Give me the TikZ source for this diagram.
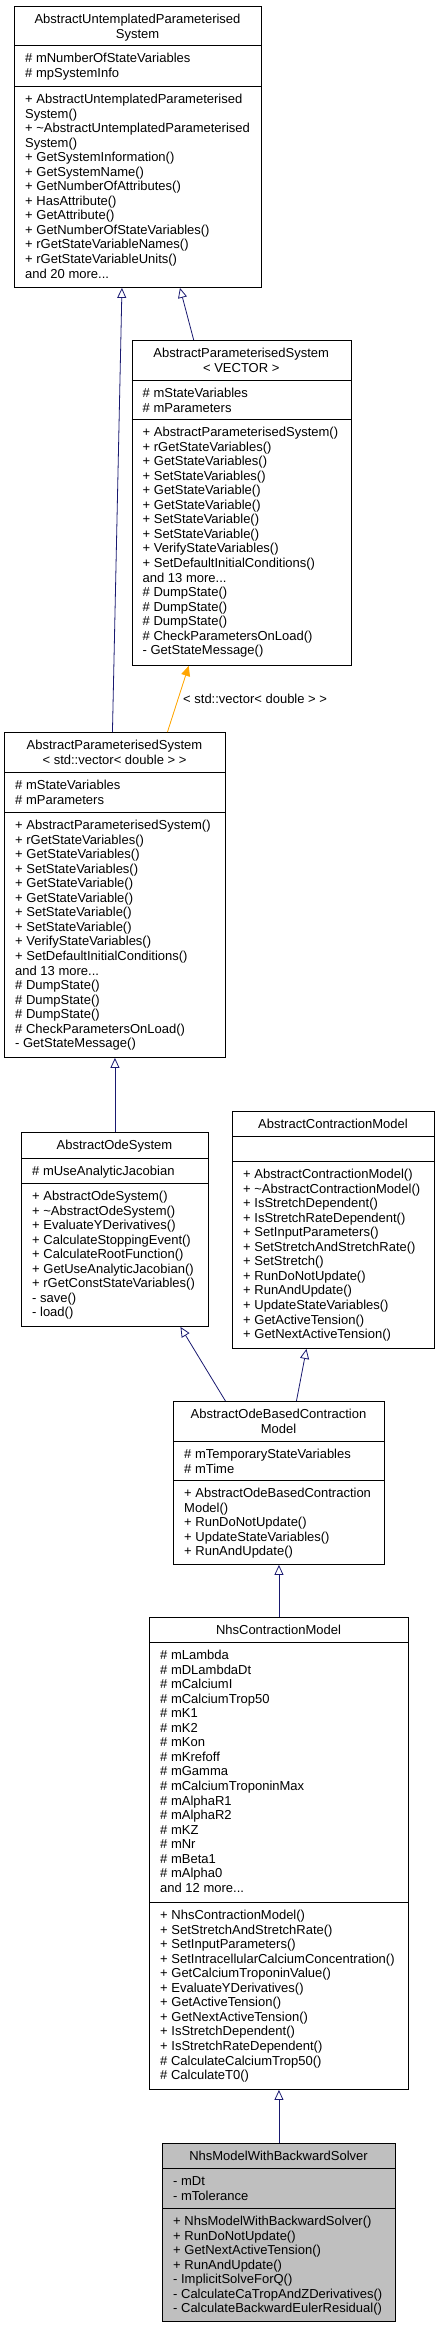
\documentclass[tikz,border=0pt]{standalone}
\usepackage{fontspec}
\setmainfont{Liberation Sans}
\usetikzlibrary{arrows.meta}

\definecolor{edgeblue}{HTML}{191970}
\definecolor{tmplorange}{HTML}{FFA500}
\definecolor{boxgray}{HTML}{BFBFBF}

\tikzset{
	classbox/.style={draw=black, line width=0.9pt, anchor=north west, inner sep=0pt},
	classbox line/.style={draw=black, line width=0.9pt},
	classtext/.style={inner sep=0pt, font=\fontsize{13}{14.55}\selectfont},
	inheritArrow/.style={-{Triangle[open, length=10pt, width=9pt]}, draw=edgeblue, line width=0.8pt},
	templateArrow/.style={-{Triangle[length=10pt, width=9pt]}, draw=tmplorange, fill=tmplorange, line width=0.8pt}
}

% lines of a compartment, first baseline is the node base
\newcommand{\classLines}[2]{\vtop{\baselineskip=14.55pt\lineskiplimit=-\maxdimen\halign{#1##\hfil\cr#2\crcr}}}

\newcommand{\drawClassBox}[8]{
	\node[classbox, fill=#8, minimum width=#4pt-#2pt, minimum height=#7pt-#3pt] (#1) at (#2,#3) {};
	\draw[classbox line] (#2,#5) -- (#4,#5);
	\draw[classbox line] (#2,#6) -- (#4,#6);
}
\newcommand{\drawClassTitle}[4]{
	\node[classtext, anchor=base] (#1) at (#2,#3) {\classLines{\hfil}{#4}};
}
\newcommand{\drawClassMembers}[4]{
	\node[classtext, anchor=base west] (#1) at (#2,#3) {\classLines{}{#4}};
}

\begin{document}
\begin{tikzpicture}[x=1pt, y=-1pt]
	\useasboundingbox (0,0) rectangle (439,2328);

	\drawClassBox{B1}{14}{6}{261}{45}{86}{287}{white}
	\drawClassBox{B2}{131.5}{340}{351}{380}{419}{665}{white}
	\drawClassBox{B3}{4}{732}{225}{772}{812}{1057}{white}
	\drawClassBox{B4}{21}{1132}{208}{1158}{1183}{1326}{white}
	\drawClassBox{B5}{232}{1111}{434}{1136}{1161}{1348}{white}
	\drawClassBox{B6}{173}{1401}{384}{1441}{1480}{1564}{white}
	\drawClassBox{B7}{149}{1617}{408}{1642}{1902}{2089}{white}
	\drawClassBox{B8}{162}{2143}{395}{2168}{2208}{2321}{boxgray}

	%AbstractUntemplatedParameterisedSystem
	\drawClassTitle{B1_T}{137.5}{23.5}{AbstractUntemplatedParameterised\cr System}
	\drawClassMembers{B1_A}{25}{62.5}{\# mNumberOfStateVariables\cr \# mpSystemInfo}
	\drawClassMembers{B1_M}{25}{103.5}{+ AbstractUntemplatedParameterised\cr System()\cr
		+ \textasciitilde AbstractUntemplatedParameterised\cr System()\cr
		+ GetSystemInformation()\cr + GetSystemName()\cr + GetNumberOfAttributes()\cr
		+ HasAttribute()\cr + GetAttribute()\cr + GetNumberOfStateVariables()\cr
		+ rGetStateVariableNames()\cr + rGetStateVariableUnits()\cr and 20 more...}

	%AbstractParameterisedSystem< VECTOR >
	\drawClassTitle{B2_T}{241.25}{357.5}{AbstractParameterisedSystem\cr < VECTOR >}
	\drawClassMembers{B2_A}{142.5}{397.5}{\# mStateVariables\cr \# mParameters}
	\drawClassMembers{B2_M}{142.5}{436.5}{+ AbstractParameterisedSystem()\cr
		+ rGetStateVariables()\cr + GetStateVariables()\cr + SetStateVariables()\cr
		+ GetStateVariable()\cr + GetStateVariable()\cr + SetStateVariable()\cr
		+ SetStateVariable()\cr + VerifyStateVariables()\cr + SetDefaultInitialConditions()\cr
		and 13 more...\cr \# DumpState()\cr \# DumpState()\cr \# DumpState()\cr
		\# CheckParametersOnLoad()\cr - GetStateMessage()}

	%AbstractParameterisedSystem< std::vector< double > >
	\drawClassTitle{B3_T}{114.5}{749.5}{AbstractParameterisedSystem\cr < std::vector< double > >}
	\drawClassMembers{B3_A}{15}{789.5}{\# mStateVariables\cr \# mParameters}
	\drawClassMembers{B3_M}{15}{829.5}{+ AbstractParameterisedSystem()\cr
		+ rGetStateVariables()\cr + GetStateVariables()\cr + SetStateVariables()\cr
		+ GetStateVariable()\cr + GetStateVariable()\cr + SetStateVariable()\cr
		+ SetStateVariable()\cr + VerifyStateVariables()\cr + SetDefaultInitialConditions()\cr
		and 13 more...\cr \# DumpState()\cr \# DumpState()\cr \# DumpState()\cr
		\# CheckParametersOnLoad()\cr - GetStateMessage()}

	%AbstractOdeSystem
	\drawClassTitle{B4_T}{114.5}{1149.5}{AbstractOdeSystem}
	\drawClassMembers{B4_A}{32}{1175.5}{\# mUseAnalyticJacobian}
	\drawClassMembers{B4_M}{32}{1200.5}{+ AbstractOdeSystem()\cr
		+ \textasciitilde AbstractOdeSystem()\cr + EvaluateYDerivatives()\cr
		+ CalculateStoppingEvent()\cr + CalculateRootFunction()\cr
		+ GetUseAnalyticJacobian()\cr + rGetConstStateVariables()\cr - save()\cr - load()}

	%AbstractContractionModel
	\drawClassTitle{B5_T}{333}{1128.5}{AbstractContractionModel}
	\drawClassMembers{B5_M}{243}{1178.5}{+ AbstractContractionModel()\cr
		+ \textasciitilde AbstractContractionModel()\cr + IsStretchDependent()\cr
		+ IsStretchRateDependent()\cr + SetInputParameters()\cr
		+ SetStretchAndStretchRate()\cr + SetStretch()\cr + RunDoNotUpdate()\cr
		+ RunAndUpdate()\cr + UpdateStateVariables()\cr + GetActiveTension()\cr
		+ GetNextActiveTension()}

	%AbstractOdeBasedContractionModel
	\drawClassTitle{B6_T}{278.5}{1418.5}{AbstractOdeBasedContraction\cr Model}
	\drawClassMembers{B6_A}{184}{1458.5}{\# mTemporaryStateVariables\cr \# mTime}
	\drawClassMembers{B6_M}{184}{1497.5}{+ AbstractOdeBasedContraction\cr Model()\cr
		+ RunDoNotUpdate()\cr + UpdateStateVariables()\cr + RunAndUpdate()}

	%NhsContractionModel
	\drawClassTitle{B7_T}{278.5}{1634.5}{NhsContractionModel}
	\drawClassMembers{B7_A}{160}{1659.5}{\# mLambda\cr \# mDLambdaDt\cr \# mCalciumI\cr
		\# mCalciumTrop50\cr \# mK1\cr \# mK2\cr \# mKon\cr \# mKrefoff\cr \# mGamma\cr
		\# mCalciumTroponinMax\cr \# mAlphaR1\cr \# mAlphaR2\cr \# mKZ\cr \# mNr\cr
		\# mBeta1\cr \# mAlpha0\cr and 12 more...}
	\drawClassMembers{B7_M}{160}{1919.5}{+ NhsContractionModel()\cr
		+ SetStretchAndStretchRate()\cr + SetInputParameters()\cr
		+ SetIntracellularCalciumConcentration()\cr + GetCalciumTroponinValue()\cr
		+ EvaluateYDerivatives()\cr + GetActiveTension()\cr + GetNextActiveTension()\cr
		+ IsStretchDependent()\cr + IsStretchRateDependent()\cr
		\# CalculateCalciumTrop50()\cr \# CalculateT0()}

	%NhsModelWithBackwardSolver
	\drawClassTitle{B8_T}{278.5}{2160.5}{NhsModelWithBackwardSolver}
	\drawClassMembers{B8_A}{173}{2185.5}{- mDt\cr - mTolerance}
	\drawClassMembers{B8_M}{173}{2225.5}{+ NhsModelWithBackwardSolver()\cr
		+ RunDoNotUpdate()\cr + GetNextActiveTension()\cr + RunAndUpdate()\cr
		- ImplicitSolveForQ()\cr - CalculateCaTropAndZDerivatives()\cr
		- CalculateBackwardEulerResidual()}

	\draw[inheritArrow] ([xshift=-48pt]B2.north) -- ([xshift=42pt]B1.south);
	\draw[inheritArrow] ([xshift=-2.5pt]B3.north) -- ([xshift=-16pt]B1.south);
	\draw[templateArrow] ([xshift=52.5pt]B3.north) -- ([xshift=-53pt]B2.south);
	\node[classtext, anchor=base west] (VEC_L) at (183,703) {< std::vector< double > >};
	\draw[inheritArrow] (B4.north) -- (B3.south);
	\draw[inheritArrow] ([xshift=-53.5pt]B6.north) -- ([xshift=65.5pt]B4.south);
	\draw[inheritArrow] ([xshift=17.5pt]B6.north) -- ([xshift=-27pt]B5.south);
	\draw[inheritArrow] (B7.north) -- (B6.south);
	\draw[inheritArrow] (B8.north) -- (B7.south);

  \end{tikzpicture}
\end{document}
